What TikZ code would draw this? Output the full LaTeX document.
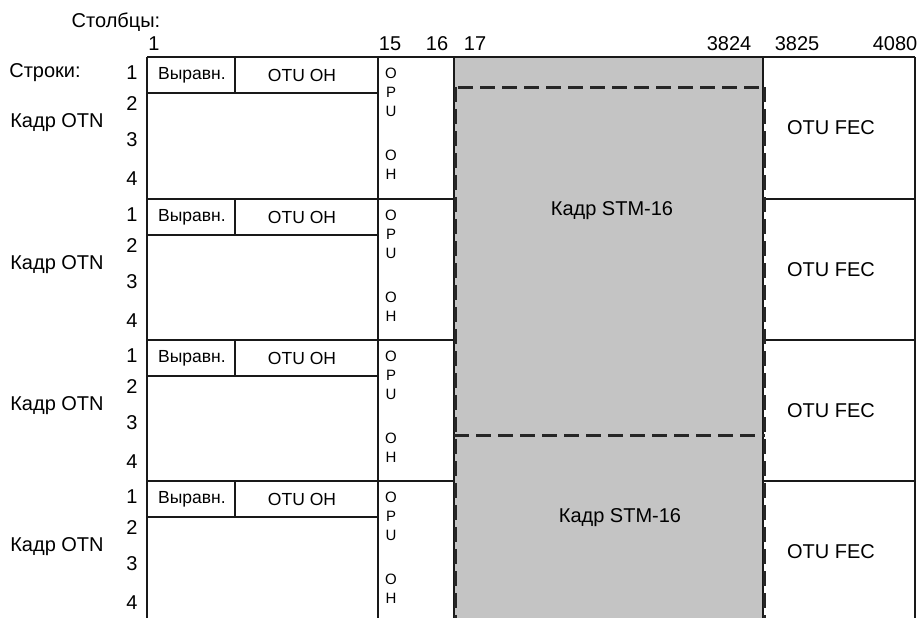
\documentclass[tikz,border=0pt]{standalone}
\usepackage{fontspec}
\setmainfont{Liberation Sans}
\usetikzlibrary{positioning}

\begin{document}
\begin{tikzpicture}[
        x=1pt, y=-1pt,
        lbl/.style={font=\fontsize{20}{22}\selectfont, inner sep=0pt},
        celltext/.style={font=\fontsize{17.5}{19}\selectfont, inner sep=0pt},
        opuletter/.style={font=\fontsize{15}{16}\selectfont, inner sep=0pt},
        frameline/.style={draw=black!90, line width=2pt},
        stmline/.style={draw=black!85, line width=3pt, dash pattern=on 15pt off 7pt}
    ]
    \useasboundingbox (0,0) rectangle (920,618);

    % payload area
    \fill[black!23] (454,57) rectangle (763,618);

    % column and row headings
    \node[lbl] (cols) at (116,22) {Столбцы:};
    \node[lbl] (rows) at (45,73) {Строки:};
    \foreach \c/\x in {1/154, 15/390, 16/437, 17/475, 3824/729, 3825/797, 4080/895}
        \node[lbl] (col-\c) at (\x,44) {\c};

    % OTN frames
    \foreach \t [count=\i] in {57,199,340,481} {
        \node[lbl] (otn-\i) at (57,\t+66) {Кадр OTN};
        \foreach \r/\dy in {1/16, 2/47, 3/83, 4/122}
            \node[lbl] (row-\i-\r) at (132,\t+\dy) {\r};
        \draw[frameline] (147,\t) -- (454,\t);
        \draw[frameline] (763,\t) -- (915,\t);
        \draw[frameline] (147,\t+36) -- (378,\t+36);
        \draw[frameline] (235,\t) -- (235,\t+36);
        \node[celltext] (align-\i) at (192,\t+18) {Выравн.};
        \node[celltext] (otuoh-\i) at (302,\t+18) {OTU OH};
        \foreach \l/\dy [count=\j] in {O/16, P/35, U/54, O/98, H/117}
            \node[opuletter] (opu-\i-\j) at (391,\t+\dy) {\l};
        \node[lbl] (fec-\i) at (831,\t+71) {OTU FEC};
    }
    \draw[frameline] (454,57) -- (763,57);

    % vertical borders
    \foreach \x in {147,378,454,763,915}
        \draw[frameline] (\x,57) -- (\x,618);

    % STM-16 frames
    \draw[stmline] (458,87) -- (765,87);
    \draw[stmline] (454,435) -- (765,435);
    \draw[stmline] (455,87) -- (455,618);
    \draw[stmline] (764,87) -- (764,618);
    \node[lbl] (stm-1) at (612,211) {Кадр STM-16};
    \node[lbl] (stm-2) at (620,518) {Кадр STM-16};

\end{tikzpicture}
\end{document}
